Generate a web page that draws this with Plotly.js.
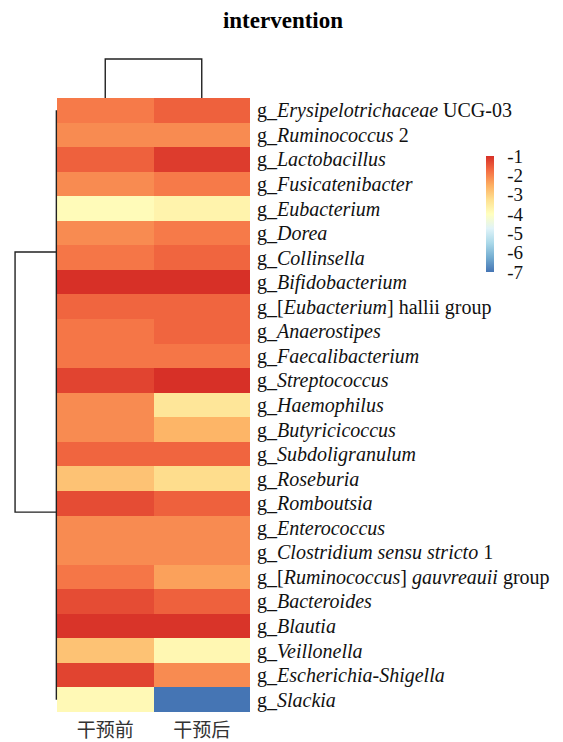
<!DOCTYPE html>
<html>
<head>
<meta charset="utf-8">
<script src="https://cdn.plot.ly/plotly-3.0.1.min.js"></script>
<style>
  html, body { margin: 0; padding: 0; background: #fff; }
  #chart { width: 563px; height: 742px; }
</style>
</head>
<body>
<div id="chart"></div>
<script>
// Genus labels (top to bottom), with italic parts marked up
const genera = [
  "g_<i>Erysipelotrichaceae</i> UCG-03",
  "g_<i>Ruminococcus</i> 2",
  "g_<i>Lactobacillus</i>",
  "g_<i>Fusicatenibacter</i>",
  "g_<i>Eubacterium</i>",
  "g_<i>Dorea</i>",
  "g_<i>Collinsella</i>",
  "g_<i>Bifidobacterium</i>",
  "g_[<i>Eubacterium</i>] hallii group",
  "g_<i>Anaerostipes</i>",
  "g_<i>Faecalibacterium</i>",
  "g_<i>Streptococcus</i>",
  "g_<i>Haemophilus</i>",
  "g_<i>Butyricicoccus</i>",
  "g_<i>Subdoligranulum</i>",
  "g_<i>Roseburia</i>",
  "g_<i>Romboutsia</i>",
  "g_<i>Enterococcus</i>",
  "g_<i>Clostridium sensu stricto</i> 1",
  "g_[<i>Ruminococcus</i>] <i>gauvreauii</i> group",
  "g_<i>Bacteroides</i>",
  "g_<i>Blautia</i>",
  "g_<i>Veillonella</i>",
  "g_<i>Escherichia-Shigella</i>",
  "g_<i>Slackia</i>"
];

// Sample groups
const groups = ["干预前", "干预后"];

// log10 relative abundance, before intervention
const before = [
  -1.90, -2.10, -1.60, -2.10, -3.90, -2.10, -1.85, -1.00, -1.65, -1.85,
  -1.85, -1.25, -2.10, -2.10, -1.65, -2.80, -1.35, -2.10, -2.10, -1.85,
  -1.35, -1.05, -2.80, -1.25, -3.85
];

// log10 relative abundance, after intervention
const after = [
  -1.60, -2.10, -1.15, -1.90, -3.70, -1.90, -1.65, -1.00, -1.65, -1.65,
  -1.85, -1.00, -3.40, -2.60, -1.65, -3.20, -1.60, -2.10, -2.10, -2.35,
  -1.60, -1.05, -3.80, -2.10, -7.00
];

// Colour bar ticks
const cbTicks = [-1, -2, -3, -4, -5, -6, -7];

// Column dendrogram: merge height of the two groups
const colMergeHeight = [1.0];
// Row dendrogram: leaf-level join and one upper bracket (row positions, height)
const rowLeafSpan = [0, 24];
const rowBracket = [5.77, 16.36];
const rowMergeHeight = [1.0];

const rowIdx = genera.map((_, i) => i);
const z = genera.map((_, i) => [before[i], after[i]]);

const W = 563, H = 742;
const px = v => v / W;
const py = v => 1 - v / H;

const heatLeft = 57, heatRight = 250, heatTop = 98, heatBottom = 712;

const serif = "Liberation Serif, Times New Roman, serif";

const rdylbu = [
  [0.000, "#4575b4"],
  [0.125, "#74add1"],
  [0.250, "#abd9e9"],
  [0.375, "#e0f3f8"],
  [0.500, "#ffffbf"],
  [0.625, "#fee090"],
  [0.750, "#fdae61"],
  [0.875, "#f46d43"],
  [1.000, "#d73027"]
];

const heat = {
  type: "heatmap",
  x: [0, 1],
  y: rowIdx,
  z: z,
  zmin: -7,
  zmax: -1,
  colorscale: rdylbu,
  xaxis: "x",
  yaxis: "y",
  colorbar: {
    x: px(486),
    xanchor: "left",
    y: py(214),
    yanchor: "middle",
    lenmode: "pixels",
    len: 116,
    thickness: 8,
    outlinewidth: 0,
    tickvals: cbTicks,
    ticktext: cbTicks.map(String),
    ticks: "outside",
    ticklen: 10,
    tickcolor: "rgba(0,0,0,0)",
    tickfont: { family: serif, size: 19, color: "#111" },
    xpad: 0,
    ypad: 0
  }
};

const lineStyle = { color: "#222", width: 1.4 };

// Column dendrogram
const colDendro = {
  type: "scatter",
  mode: "lines",
  x: [0, 0, 1, 1],
  y: [0, colMergeHeight[0], colMergeHeight[0], 0],
  xaxis: "x2",
  yaxis: "y2",
  line: lineStyle,
  hoverinfo: "skip",
  showlegend: false
};

// Row dendrogram: leaf join line plus upper bracket
const rowDendroLeaves = {
  type: "scatter",
  mode: "lines",
  x: [0, 0],
  y: rowLeafSpan,
  xaxis: "x3",
  yaxis: "y3",
  line: lineStyle,
  hoverinfo: "skip",
  showlegend: false
};
const rowDendroBracket = {
  type: "scatter",
  mode: "lines",
  x: [0, rowMergeHeight[0], rowMergeHeight[0], 0],
  y: [rowBracket[0], rowBracket[0], rowBracket[1], rowBracket[1]],
  xaxis: "x3",
  yaxis: "y3",
  line: lineStyle,
  hoverinfo: "skip",
  showlegend: false
};

const hidden = { visible: false, showgrid: false, zeroline: false, fixedrange: true };

const layout = {
  width: W,
  height: H,
  margin: { l: 0, r: 0, t: 0, b: 0 },
  paper_bgcolor: "#fff",
  plot_bgcolor: "rgba(0,0,0,0)",
  showlegend: false,
  title: {
    text: "<b>intervention</b>",
    font: { family: serif, size: 23, color: "#000" },
    x: px(283),
    xanchor: "center",
    y: py(20),
    yanchor: "middle",
    xref: "paper",
    yref: "paper"
  },
  xaxis: {
    domain: [px(heatLeft), px(heatRight)],
    range: [-0.5, 1.5],
    tickvals: [0, 1],
    ticktext: groups,
    ticks: "",
    showgrid: false,
    zeroline: false,
    showline: false,
    ticklabelstandoff: 5,
    tickfont: { family: "Noto Sans CJK SC, sans-serif", size: 19, color: "#333" },
    fixedrange: true
  },
  yaxis: {
    domain: [py(heatBottom), py(heatTop)],
    range: [genera.length - 0.5, -0.5],
    side: "right",
    tickvals: rowIdx,
    ticktext: genera,
    ticks: "",
    showgrid: false,
    zeroline: false,
    showline: false,
    ticklabelstandoff: 6,
    tickfont: { family: serif, size: 20, color: "#111" },
    fixedrange: true
  },
  xaxis2: Object.assign({}, hidden, {
    domain: [px(heatLeft), px(heatRight)],
    range: [-0.5, 1.5],
    anchor: "y2"
  }),
  yaxis2: Object.assign({}, hidden, {
    domain: [py(heatTop), py(57)],
    range: [0, colMergeHeight[0] * 1.05],
    anchor: "x2"
  }),
  xaxis3: Object.assign({}, hidden, {
    domain: [px(13), px(58)],
    range: [rowMergeHeight[0] * 1.05, -0.04],
    anchor: "y3"
  }),
  yaxis3: Object.assign({}, hidden, {
    domain: [py(heatBottom), py(heatTop)],
    range: [genera.length - 0.5, -0.5],
    anchor: "x3"
  })
};

Plotly.newPlot("chart", [heat, colDendro, rowDendroLeaves, rowDendroBracket], layout, {
  displayModeBar: false,
  staticPlot: true
});
</script>
</body>
</html>
